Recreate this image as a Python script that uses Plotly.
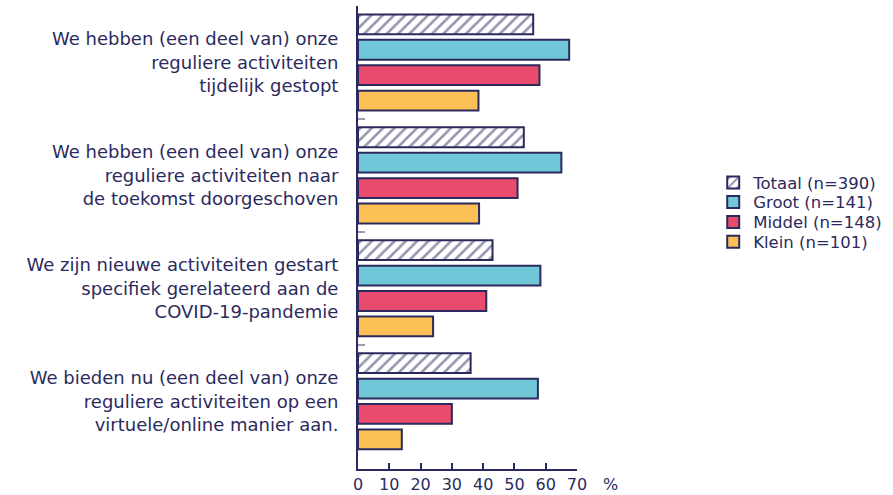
import plotly.graph_objects as go

categories = [
    "We hebben (een deel van) onze<br>reguliere activiteiten<br>tijdelijk gestopt",
    "We hebben (een deel van) onze<br>reguliere activiteiten naar<br>de toekomst doorgeschoven",
    "We zijn nieuwe activiteiten gestart<br>specifiek gerelateerd aan de<br>COVID-19-pandemie",
    "We bieden nu (een deel van) onze<br>reguliere activiteiten op een<br>virtuele/online manier aan.",
]
series_names = ["Totaal (n=390)", "Groot (n=141)", "Middel (n=148)", "Klein (n=101)"]
totaal = [56, 53, 43, 36]
groot = [67.5, 65, 58.3, 57.5]
middel = [58, 51, 41, 30]
klein = [38.5, 38.7, 24, 14]
x_ticks = [0, 10, 20, 30, 40, 50, 60, 70]

navy = "#2b2a5e"
colors = ["white", "#70c7d8", "#e94b6c", "#fcc057"]
values = [totaal, groot, middel, klein]
FONT = "DejaVu Sans"

# one legend per series so that the row spacing can match the reference
legend_names = ["legend", "legend2", "legend3", "legend4"]
legend_y = [0.618, 0.576, 0.533, 0.490]

fig = go.Figure()
for i, (name, vals) in enumerate(zip(series_names, values)):
    marker = dict(color=colors[i], line=dict(color=navy, width=2))
    if i == 0:
        marker["pattern"] = dict(shape="/", fgcolor=navy, bgcolor="white", size=8, solidity=0.32)
    fig.add_trace(go.Bar(
        y=categories, x=vals, name=name, orientation="h", marker=marker,
        legend=legend_names[i],
    ))

layout_legends = {}
for ln, ly in zip(legend_names, legend_y):
    layout_legends[ln] = dict(x=1.622, y=ly, xanchor="left", yanchor="middle",
                              font=dict(family=FONT, size=16.5, color=navy),
                              itemwidth=30, bgcolor="rgba(0,0,0,0)")

fig.update_layout(
    width=893, height=495,
    paper_bgcolor="white", plot_bgcolor="white",
    barmode="group", bargap=0.1, bargroupgap=0.22,
    margin=dict(l=358, r=316, t=6, b=26, autoexpand=False),
    font=dict(family=FONT, color=navy, size=15),
    showlegend=True,
    **layout_legends,
)
fig.update_xaxes(
    range=[0, 70], tickvals=x_ticks, ticks="inside", ticklen=6, tickwidth=2,
    tickcolor=navy, showline=True, linecolor=navy, linewidth=2, automargin=False,
    showgrid=False, zeroline=False, tickfont=dict(family=FONT, size=16, color=navy),
)
fig.update_yaxes(
    categoryorder="array", categoryarray=categories, automargin=False,
    range=[3.6, -0.5], ticks="inside", tickson="boundaries", ticklen=7,
    tickcolor="#9a9ab0", tickwidth=1.5, showline=True, linecolor=navy, linewidth=2,
    showgrid=False, zeroline=False, ticklabelstandoff=14,
    tickfont=dict(family=FONT, size=18, color=navy),
)
fig.add_annotation(text="%", xref="paper", yref="paper", x=1.155, y=-0.034,
                   xanchor="center", yanchor="middle", showarrow=False,
                   font=dict(family=FONT, size=16, color=navy))
fig.write_html("out.html", config={"displayModeBar": False},
               post_script="document.body.style.margin='0px';")
